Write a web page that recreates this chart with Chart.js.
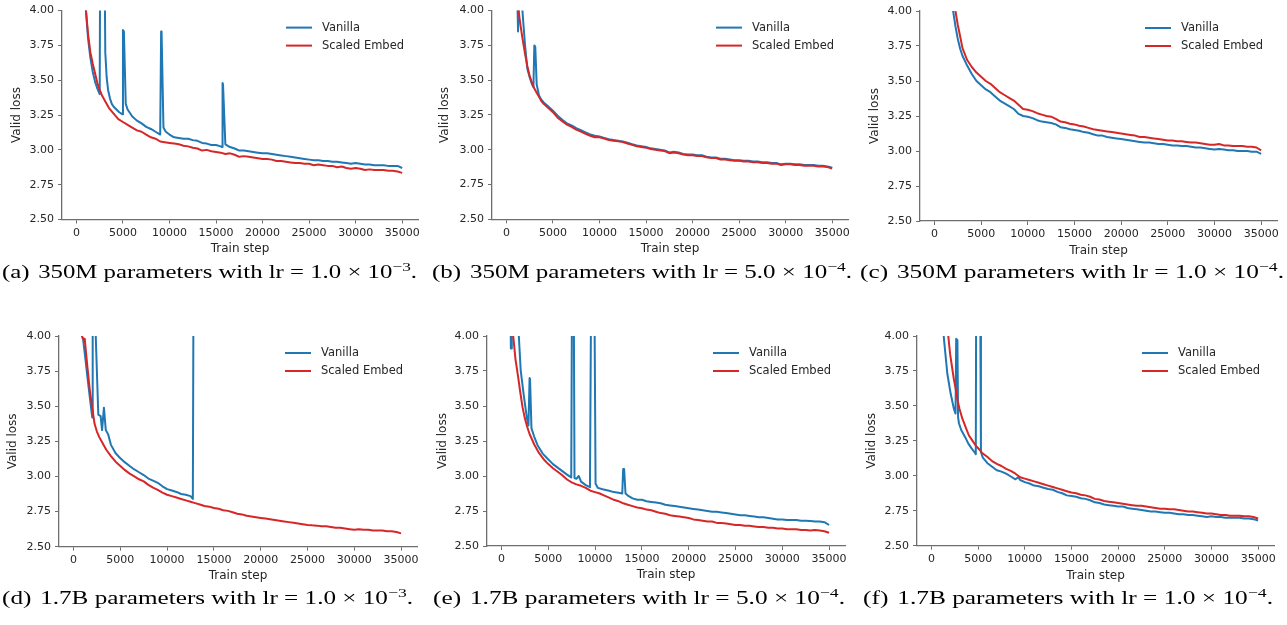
<!DOCTYPE html>
<html>
<head>
<meta charset="utf-8">
<script src="https://cdn.jsdelivr.net/npm/chart.js@4.4.1/dist/chart.umd.min.js"></script>
<style>
  body { margin: 0; background: #fff; width: 1287px; height: 625px; overflow: hidden; position: relative; }
  canvas { position: absolute; }
  .cap { position: absolute; font-family: "Liberation Serif", "Times New Roman", serif; font-size: 18px;
         line-height: 18px; white-space: nowrap; color: #000; transform-origin: 0 0; }
  .cap .tag { margin-right: 0.35em; }
  .cap sup { font-size: 0.7em; vertical-align: 0.55em; line-height: 0; }
</style>
</head>
<body>
<script>
// axes
const xTicks = [0, 5000, 10000, 15000, 20000, 25000, 30000, 35000];
const yTicks = [2.5, 2.75, 3.0, 3.25, 3.5, 3.75, 4.0];
const xMin = -1550, xMax = 36700;
const seriesNames = ['Vanilla', 'Scaled Embed'];
const seriesColors = ['#1f77b4', '#d62728'];

// (a) 350M, lr 1e-3   [step, valid loss]
const vanillaA = [[1000,4.02],[1250,3.80],[1500,3.66],[1750,3.56],[2000,3.49],[2250,3.44],[2500,3.40],[2560,4.6],[3000,4.6],[3100,3.70],[3250,3.52],[3400,3.43],[3600,3.37],[3800,3.33],[4000,3.31],[4300,3.29],[4600,3.27],[4950,3.255],[5000,3.86],[5100,3.85],[5300,3.33],[5500,3.29],[6000,3.24],[6500,3.21],[7000,3.19],[7500,3.165],[8000,3.15],[8500,3.13],[9000,3.11],[9100,3.85],[9150,3.84],[9350,3.16],[9600,3.13],[10000,3.11],[10500,3.09],[11000,3.085],[11500,3.08],[12000,3.08],[12500,3.07],[13000,3.065],[13500,3.05],[14000,3.045],[14500,3.035],[15000,3.035],[15500,3.025],[15650,3.02],[15700,3.48],[15750,3.47],[16000,3.04],[16500,3.02],[17000,3.01],[17500,2.995],[18000,2.995],[18500,2.99],[19000,2.985],[19500,2.98],[20000,2.975],[20500,2.975],[21000,2.97],[21500,2.965],[22000,2.96],[22500,2.955],[23000,2.95],[23500,2.945],[24000,2.94],[24500,2.935],[25000,2.93],[25500,2.925],[26000,2.925],[26500,2.92],[27000,2.92],[27500,2.915],[28000,2.915],[28500,2.91],[29000,2.905],[29500,2.9],[30000,2.905],[30500,2.9],[31000,2.895],[31500,2.895],[32000,2.89],[32500,2.89],[33000,2.89],[33500,2.885],[34000,2.885],[34500,2.885],[35000,2.87]];
const embedA = [[900,4.15],[1000,4.02],[1250,3.83],[1500,3.70],[1750,3.62],[2000,3.55],[2250,3.48],[2500,3.43],[2750,3.39],[3000,3.36],[3500,3.30],[4000,3.26],[4500,3.22],[5000,3.20],[5500,3.18],[6000,3.16],[6500,3.14],[7000,3.13],[7500,3.11],[8000,3.09],[8500,3.08],[9000,3.06],[9500,3.055],[10000,3.05],[10500,3.045],[11000,3.04],[11500,3.03],[12000,3.025],[12500,3.015],[13000,3.01],[13500,2.995],[14000,3.0],[14500,2.99],[15000,2.985],[15500,2.98],[16000,2.97],[16500,2.975],[17000,2.965],[17500,2.95],[18000,2.955],[18500,2.95],[19000,2.945],[19500,2.94],[20000,2.935],[20500,2.935],[21000,2.93],[21500,2.92],[22000,2.92],[22500,2.915],[23000,2.91],[23500,2.905],[24000,2.905],[24500,2.9],[25000,2.9],[25500,2.89],[26000,2.895],[26500,2.89],[27000,2.885],[27500,2.885],[28000,2.875],[28500,2.88],[29000,2.87],[29500,2.865],[30000,2.87],[30500,2.865],[31000,2.855],[31500,2.86],[32000,2.855],[32500,2.855],[33000,2.855],[33500,2.85],[34000,2.85],[34500,2.845],[35000,2.835]];

// (b) 350M, lr 5e-4
const vanillaB = [[1100,4.3],[1250,3.85],[1350,3.85],[1450,4.3],[1750,3.97],[2000,3.75],[2250,3.58],[2500,3.52],[2750,3.47],[2900,3.45],[3000,3.75],[3100,3.74],[3250,3.47],[3500,3.39],[3750,3.36],[4000,3.34],[4500,3.31],[5000,3.28],[5500,3.245],[6000,3.215],[6500,3.19],[7000,3.175],[7500,3.155],[8000,3.14],[8500,3.125],[9000,3.11],[9500,3.10],[10000,3.095],[10500,3.085],[11000,3.075],[11500,3.07],[12000,3.065],[12500,3.06],[13000,3.05],[13500,3.04],[14000,3.03],[14500,3.025],[15000,3.02],[15500,3.01],[16000,3.005],[16500,3.0],[17000,2.995],[17500,2.98],[18000,2.985],[18500,2.98],[19000,2.97],[19500,2.965],[20000,2.965],[20500,2.96],[21000,2.96],[21500,2.95],[22000,2.945],[22500,2.945],[23000,2.935],[23500,2.935],[24000,2.93],[24500,2.925],[25000,2.925],[25500,2.92],[26000,2.92],[26500,2.915],[27000,2.915],[27500,2.91],[28000,2.91],[28500,2.905],[29000,2.905],[29500,2.895],[30000,2.9],[30500,2.9],[31000,2.895],[31500,2.895],[32000,2.89],[32500,2.89],[33000,2.89],[33500,2.885],[34000,2.885],[34500,2.88],[35000,2.87]];
const embedB = [[1200,4.1],[1300,4.0],[1500,3.90],[1750,3.79],[2000,3.69],[2250,3.60],[2500,3.53],[2750,3.48],[3000,3.44],[3250,3.41],[3500,3.38],[3750,3.35],[4000,3.33],[4500,3.30],[5000,3.27],[5500,3.23],[6000,3.205],[6500,3.18],[7000,3.165],[7500,3.145],[8000,3.13],[8500,3.115],[9000,3.10],[9500,3.09],[10000,3.09],[10500,3.08],[11000,3.07],[11500,3.065],[12000,3.06],[12500,3.055],[13000,3.045],[13500,3.035],[14000,3.025],[14500,3.02],[15000,3.015],[15500,3.005],[16000,3.0],[16500,2.995],[17000,2.99],[17500,2.975],[18000,2.98],[18500,2.975],[19000,2.965],[19500,2.96],[20000,2.96],[20500,2.955],[21000,2.955],[21500,2.945],[22000,2.94],[22500,2.94],[23000,2.93],[23500,2.93],[24000,2.925],[24500,2.92],[25000,2.92],[25500,2.915],[26000,2.915],[26500,2.91],[27000,2.91],[27500,2.905],[28000,2.905],[28500,2.9],[29000,2.9],[29500,2.89],[30000,2.895],[30500,2.895],[31000,2.89],[31500,2.89],[32000,2.885],[32500,2.885],[33000,2.885],[33500,2.88],[34000,2.88],[34500,2.875],[35000,2.865]];

// (c) 350M, lr 1e-4
const vanillaC = [[1900,4.05],[2000,4.0],[2250,3.89],[2500,3.80],[2750,3.73],[3000,3.68],[3500,3.61],[4000,3.55],[4500,3.50],[5000,3.47],[5500,3.44],[6000,3.42],[6500,3.39],[7000,3.36],[7500,3.34],[8000,3.32],[8500,3.30],[9000,3.265],[9500,3.25],[10000,3.245],[10500,3.235],[11000,3.22],[11500,3.21],[12000,3.205],[12500,3.20],[13000,3.19],[13500,3.17],[14000,3.165],[14500,3.155],[15000,3.15],[15500,3.145],[16000,3.135],[16500,3.13],[17000,3.12],[17500,3.11],[18000,3.11],[18500,3.10],[19000,3.095],[19500,3.09],[20000,3.085],[20500,3.08],[21000,3.075],[21500,3.07],[22000,3.065],[22500,3.06],[23000,3.06],[23500,3.055],[24000,3.05],[24500,3.05],[25000,3.045],[25500,3.04],[26000,3.04],[26500,3.035],[27000,3.035],[27500,3.03],[28000,3.025],[28500,3.025],[29000,3.02],[29500,3.015],[30000,3.01],[30500,3.015],[31000,3.01],[31500,3.005],[32000,3.005],[32500,3.0],[33000,3.0],[33500,3.0],[34000,2.995],[34500,2.995],[35000,2.98]];
const embedC = [[2100,4.05],[2250,4.0],[2500,3.90],[2750,3.82],[3000,3.735],[3500,3.65],[4000,3.60],[4500,3.56],[5000,3.53],[5500,3.50],[6000,3.48],[6500,3.45],[7000,3.42],[7500,3.40],[8000,3.38],[8500,3.36],[9000,3.33],[9500,3.30],[10000,3.295],[10500,3.285],[11000,3.27],[11500,3.26],[12000,3.25],[12500,3.245],[13000,3.23],[13500,3.21],[14000,3.205],[14500,3.195],[15000,3.19],[15500,3.18],[16000,3.175],[16500,3.165],[17000,3.155],[17500,3.15],[18000,3.145],[18500,3.14],[19000,3.135],[19500,3.13],[20000,3.125],[20500,3.12],[21000,3.115],[21500,3.11],[22000,3.10],[22500,3.10],[23000,3.095],[23500,3.09],[24000,3.085],[24500,3.08],[25000,3.075],[25500,3.075],[26000,3.07],[26500,3.07],[27000,3.065],[27500,3.06],[28000,3.06],[28500,3.055],[29000,3.05],[29500,3.045],[30000,3.045],[30500,3.05],[31000,3.04],[31500,3.04],[32000,3.035],[32500,3.035],[33000,3.035],[33500,3.03],[34000,3.03],[34500,3.025],[35000,3.005]];

// (d) 1.7B, lr 1e-3 (vanilla diverges after ~12.8k)
const vanillaD = [[1000,3.99],[1250,3.85],[1500,3.70],[1750,3.56],[2000,3.42],[2050,4.6],[2250,4.6],[2350,4.05],[2650,3.44],[2900,3.43],[3050,3.33],[3250,3.49],[3450,3.33],[3700,3.30],[4000,3.225],[4500,3.165],[5000,3.13],[5500,3.10],[6000,3.075],[6500,3.05],[7000,3.03],[7500,3.01],[8000,2.985],[8500,2.97],[9000,2.955],[9500,2.93],[10000,2.91],[10500,2.90],[11000,2.89],[11500,2.875],[12000,2.87],[12500,2.86],[12750,2.84],[12850,5.0]];
const embedD = [[850,4.01],[1000,3.98],[1200,3.98],[1500,3.77],[1750,3.61],[2000,3.49],[2250,3.375],[2500,3.32],[2750,3.28],[3000,3.25],[3500,3.19],[4000,3.145],[4500,3.105],[5000,3.075],[5500,3.045],[6000,3.02],[6500,3.0],[7000,2.98],[7500,2.965],[8000,2.94],[8500,2.92],[9000,2.905],[9500,2.885],[10000,2.87],[10500,2.86],[11000,2.85],[11500,2.84],[12000,2.83],[12500,2.82],[13000,2.81],[13500,2.80],[14000,2.79],[14500,2.785],[15000,2.775],[15500,2.77],[16000,2.76],[16500,2.755],[17000,2.745],[17500,2.735],[18000,2.73],[18500,2.72],[19000,2.715],[19500,2.71],[20000,2.705],[20500,2.70],[21000,2.695],[21500,2.69],[22000,2.685],[22500,2.68],[23000,2.675],[23500,2.67],[24000,2.665],[24500,2.66],[25000,2.655],[25500,2.652],[26000,2.65],[26500,2.645],[27000,2.645],[27500,2.64],[28000,2.635],[28500,2.635],[29000,2.63],[29500,2.625],[30000,2.62],[30500,2.625],[31000,2.62],[31500,2.62],[32000,2.615],[32500,2.615],[33000,2.615],[33500,2.61],[34000,2.61],[34500,2.605],[35000,2.595]];

// (e) 1.7B, lr 5e-4
const vanillaE = [[950,4.3],[1000,3.91],[1050,3.91],[1100,4.3],[1750,4.3],[1850,4.0],[2050,3.755],[2400,3.565],[2700,3.42],[2880,3.36],[3000,3.70],[3050,3.69],[3200,3.34],[3500,3.28],[3850,3.22],[4400,3.16],[4900,3.125],[5500,3.085],[6000,3.06],[6500,3.035],[7000,3.01],[7450,2.99],[7550,4.6],[7700,4.6],[7800,2.985],[8000,2.98],[8250,3.00],[8500,2.96],[9000,2.935],[9450,2.92],[9600,4.6],[9900,4.6],[10050,2.945],[10300,2.915],[10800,2.905],[11500,2.895],[12000,2.885],[12500,2.88],[12900,2.875],[13000,3.05],[13100,3.05],[13250,2.875],[13500,2.86],[14000,2.84],[14500,2.83],[15000,2.83],[15500,2.82],[16000,2.815],[16500,2.81],[17000,2.805],[17500,2.795],[18000,2.79],[18500,2.785],[19000,2.78],[19500,2.775],[20000,2.77],[20500,2.765],[21000,2.76],[21500,2.755],[22000,2.75],[22500,2.745],[23000,2.745],[23500,2.74],[24000,2.735],[24500,2.73],[25000,2.725],[25500,2.72],[26000,2.72],[26500,2.715],[27000,2.71],[27500,2.705],[28000,2.705],[28500,2.70],[29000,2.695],[29500,2.69],[30000,2.69],[30500,2.685],[31000,2.685],[31500,2.685],[32000,2.68],[32500,2.68],[33000,2.678],[33500,2.675],[34000,2.675],[34500,2.67],[35000,2.65]];
const embedE = [[1150,4.05],[1250,4.0],[1500,3.83],[1750,3.72],[2000,3.60],[2250,3.49],[2500,3.41],[2750,3.35],[3000,3.30],[3500,3.225],[4000,3.165],[4500,3.12],[5000,3.085],[5500,3.055],[6000,3.03],[6500,3.005],[7000,2.975],[7500,2.955],[8000,2.94],[8500,2.93],[9000,2.915],[9500,2.895],[10000,2.885],[10500,2.875],[11000,2.86],[11500,2.845],[12000,2.83],[12500,2.82],[13000,2.805],[13500,2.795],[14000,2.785],[14500,2.775],[15000,2.77],[15500,2.76],[16000,2.755],[16500,2.745],[17000,2.735],[17500,2.73],[18000,2.72],[18500,2.715],[19000,2.71],[19500,2.705],[20000,2.70],[20500,2.69],[21000,2.685],[21500,2.68],[22000,2.675],[22500,2.675],[23000,2.665],[23500,2.665],[24000,2.66],[24500,2.655],[25000,2.65],[25500,2.65],[26000,2.645],[26500,2.645],[27000,2.64],[27500,2.635],[28000,2.635],[28500,2.63],[29000,2.63],[29500,2.625],[30000,2.625],[30500,2.62],[31000,2.62],[31500,2.62],[32000,2.615],[32500,2.615],[33000,2.61],[33500,2.615],[34000,2.61],[34500,2.605],[35000,2.595]];

// (f) 1.7B, lr 1e-4
const vanillaF = [[1250,4.05],[1350,3.97],[1700,3.73],[2050,3.59],[2400,3.48],[2580,3.445],[2650,3.98],[2780,3.97],[2850,3.42],[2950,3.374],[3200,3.326],[3600,3.278],[3950,3.23],[4300,3.196],[4650,3.165],[4750,3.155],[4800,4.6],[5200,4.6],[5300,3.17],[5500,3.13],[6000,3.09],[6500,3.065],[7000,3.04],[7500,3.03],[8000,3.015],[8500,2.995],[9000,2.975],[9300,2.99],[9500,2.97],[10000,2.955],[10500,2.945],[11000,2.93],[11500,2.925],[12000,2.915],[12500,2.905],[13000,2.90],[13500,2.885],[14000,2.875],[14500,2.86],[15000,2.855],[15500,2.85],[16000,2.84],[16500,2.835],[17000,2.825],[17500,2.81],[18000,2.805],[18500,2.795],[19000,2.79],[19500,2.785],[20000,2.78],[20500,2.78],[21000,2.77],[21500,2.765],[22000,2.76],[22500,2.755],[23000,2.75],[23500,2.745],[24000,2.745],[24500,2.74],[25000,2.735],[25500,2.735],[26000,2.73],[26500,2.725],[27000,2.725],[27500,2.72],[28000,2.72],[28500,2.715],[29000,2.71],[29500,2.705],[30000,2.71],[30500,2.705],[31000,2.705],[31500,2.70],[32000,2.70],[32500,2.70],[33000,2.70],[33500,2.695],[34000,2.695],[34500,2.69],[35000,2.68]];
const embedF = [[1700,4.05],[1800,4.0],[2000,3.87],[2200,3.78],[2400,3.69],[2600,3.62],[2800,3.54],[3000,3.48],[3300,3.41],[3650,3.35],[4000,3.29],[4350,3.255],[4700,3.22],[5100,3.19],[5400,3.165],[6000,3.135],[6500,3.105],[7000,3.085],[7500,3.07],[8000,3.05],[8500,3.035],[9000,3.015],[9500,2.99],[10000,2.98],[10500,2.97],[11000,2.96],[11500,2.95],[12000,2.94],[12500,2.93],[13000,2.92],[13500,2.91],[14000,2.90],[14500,2.89],[15000,2.88],[15500,2.875],[16000,2.865],[16500,2.86],[17000,2.85],[17500,2.835],[18000,2.83],[18500,2.82],[19000,2.815],[19500,2.81],[20000,2.805],[20500,2.80],[21000,2.795],[21500,2.79],[22000,2.785],[22500,2.785],[23000,2.78],[23500,2.775],[24000,2.77],[24500,2.765],[25000,2.765],[25500,2.76],[26000,2.76],[26500,2.755],[27000,2.75],[27500,2.745],[28000,2.745],[28500,2.74],[29000,2.735],[29500,2.73],[30000,2.73],[30500,2.725],[31000,2.72],[31500,2.72],[32000,2.715],[32500,2.715],[33000,2.715],[33500,2.71],[34000,2.71],[34500,2.705],[35000,2.695]];

// panel boxes (page pixels) and captions
const panels = [
  {tag: '(a)', size: '350M', lr: '1.0', exp: '−3', vanilla: vanillaA, embed: embedA,
   left: 0, top: 0, w: 430, h: 262, plot: {l: 62, r: 418, t: 10, b: 219.5}, yTitleX: 16.7, xTitleY: 249.3, cap: [2, 417, 277.5]},
  {tag: '(b)', size: '350M', lr: '5.0', exp: '−4', vanilla: vanillaB, embed: embedB,
   left: 430, top: 0, w: 430, h: 262, plot: {l: 492, r: 848, t: 10, b: 219.3}, yTitleX: 15, xTitleY: 249, cap: [432, 852, 277.5]},
  {tag: '(c)', size: '350M', lr: '1.0', exp: '−4', vanilla: vanillaC, embed: embedC,
   left: 860, top: 0, w: 427, h: 262, plot: {l: 920, r: 1277, t: 11, b: 221}, yTitleX: 15.3, xTitleY: 250.7, cap: [860, 1284, 277.5]},
  {tag: '(d)', size: '1.7B', lr: '1.0', exp: '−3', vanilla: vanillaD, embed: embedD,
   left: 0, top: 322, w: 430, h: 265, plot: {l: 59, r: 417, t: 336, b: 546.7}, yTitleX: 13.3, xTitleY: 576, cap: [2, 413, 603.5]},
  {tag: '(e)', size: '1.7B', lr: '5.0', exp: '−4', vanilla: vanillaE, embed: embedE,
   left: 430, top: 322, w: 430, h: 265, plot: {l: 487, r: 845, t: 336, b: 546}, yTitleX: 12.7, xTitleY: 575, cap: [433, 845, 603.5]},
  {tag: '(f)', size: '1.7B', lr: '1.0', exp: '−4', vanilla: vanillaF, embed: embedF,
   left: 860, top: 322, w: 427, h: 265, plot: {l: 917, r: 1274, t: 336, b: 545.7}, yTitleX: 12, xTitleY: 575.7, cap: [863, 1273, 603.5]}
];

Chart.defaults.font.family = '"DejaVu Sans", sans-serif';
Chart.defaults.color = '#262626';

const axisGray = '#6e6e6e';
const textGray = '#262626';

// legend drawn inside the plot, upper right
const innerLegend = {
  id: 'innerLegend',
  afterDatasetsDraw(chart) {
    const {ctx, chartArea} = chart;
    const x0 = chartArea.right - 132;
    ctx.save();
    ctx.font = '11.5px "DejaVu Sans"';
    ctx.textBaseline = 'middle';
    ctx.fillStyle = textGray;
    chart.data.datasets.forEach((ds, i) => {
      const y = chartArea.top + 17 + i * 18;
      ctx.strokeStyle = ds.borderColor;
      ctx.lineWidth = 2;
      ctx.beginPath();
      ctx.moveTo(x0, y);
      ctx.lineTo(x0 + 26, y);
      ctx.stroke();
      ctx.fillText(ds.label, x0 + 36, y);
    });
    ctx.restore();
  }
};

function toPoints(rows) {
  return rows.map(r => ({x: r[0], y: r[1]}));
}

function makeChart(p) {
  const cv = document.createElement('canvas');
  cv.width = p.w;
  cv.height = p.h;
  cv.style.left = p.left + 'px';
  cv.style.top = p.top + 'px';
  cv.style.width = p.w + 'px';
  cv.style.height = p.h + 'px';
  document.body.appendChild(cv);

  const yWidth = p.plot.l - p.left;
  const xHeight = p.top + p.h - p.plot.b;

  new Chart(cv, {
    type: 'line',
    data: {
      datasets: [
        {label: seriesNames[0], data: toPoints(p.vanilla), borderColor: seriesColors[0], order: 1},
        {label: seriesNames[1], data: toPoints(p.embed), borderColor: seriesColors[1], order: 0}
      ]
    },
    options: {
      responsive: false,
      animation: false,
      devicePixelRatio: 1,
      layout: {autoPadding: false, padding: {top: p.plot.t - p.top, right: p.left + p.w - p.plot.r, left: 0, bottom: 0}},
      plugins: {legend: {display: false}, tooltip: {enabled: false}},
      elements: {
        point: {radius: 0},
        line: {tension: 0, borderWidth: 2, fill: false, borderJoinStyle: 'round'}
      },
      datasets: {line: {clip: 0}},
      scales: {
        x: {
          type: 'linear', min: xMin, max: xMax,
          afterBuildTicks: s => { s.ticks = xTicks.map(v => ({value: v})); },
          afterFit: s => { s.height = xHeight; },
          ticks: {font: {size: 11}, color: textGray, padding: 3, maxRotation: 0, callback: v => String(v)},
          grid: {display: true, drawOnChartArea: false, drawTicks: true, tickLength: 4, color: axisGray, lineWidth: 1},
          border: {display: true, color: axisGray, width: 1.3},
          title: {display: true, text: 'Train step', font: {size: 12}, color: textGray,
                  padding: {top: 0, bottom: (p.top + p.h) - p.xTitleY - 7.2}}
        },
        y: {
          type: 'linear', min: 2.5, max: 4.0,
          afterBuildTicks: s => { s.ticks = yTicks.map(v => ({value: v})); },
          afterFit: s => { s.width = yWidth; },
          ticks: {font: {size: 11}, color: textGray, padding: 4, callback: v => v.toFixed(2)},
          grid: {display: true, drawOnChartArea: false, drawTicks: true, tickLength: 4, color: axisGray, lineWidth: 1},
          border: {display: true, color: axisGray, width: 1.3},
          title: {display: true, text: 'Valid loss', font: {size: 12}, color: textGray,
                  padding: {top: p.yTitleX - 7.2, bottom: 0}}
        }
      }
    },
    plugins: [innerLegend]
  });
}

function makeCaption(p) {
  const d = document.createElement('div');
  d.className = 'cap';
  d.innerHTML = '<span class="tag">' + p.tag + '</span>' + p.size + ' parameters with lr = ' +
    p.lr + ' × 10<sup>' + p.exp + '</sup>.';
  d.style.left = p.cap[0] + 'px';
  d.style.top = (p.cap[2] - 15) + 'px';
  document.body.appendChild(d);
  const fit = () => {
    const natural = d.getBoundingClientRect().width / (d._k || 1);
    d._k = (p.cap[1] - p.cap[0]) / natural;
    d.style.transform = 'scaleX(' + d._k + ')';
  };
  fit();
  if (document.fonts) document.fonts.ready.then(() => { d.style.transform = ''; d._k = 1; fit(); });
}

panels.forEach(p => { makeChart(p); makeCaption(p); });
</script>
</body>
</html>
